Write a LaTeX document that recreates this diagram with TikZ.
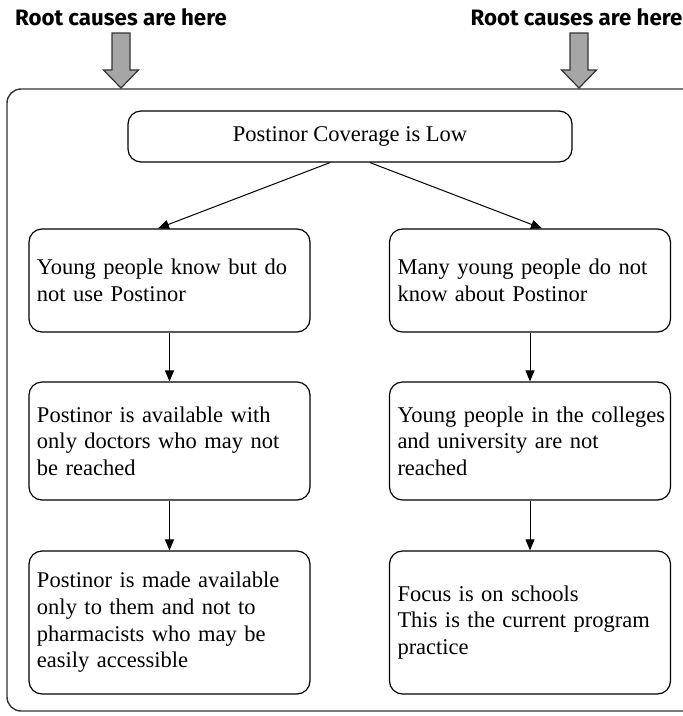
\documentclass[tikz,border=0pt]{standalone}
\usepackage{fontspec}
\setmainfont{Liberation Serif}
\newfontfamily\labelfont{Fira Sans}
\usetikzlibrary{arrows.meta}
\definecolor{arrowgray}{gray}{0.65}
\begin{document}
\begin{tikzpicture}[x=1pt,y=-1pt,
  box/.style={draw=black, line width=1.2pt, rounded corners=13pt, inner xsep=8pt, inner ysep=0pt,
    text width=265pt, align=left, minimum height=#1, font=\fontsize{22.5}{26.7}\selectfont},
  topbox/.style={draw=black, line width=1.2pt, rounded corners=13pt, minimum width=444pt,
    minimum height=51pt, font=\fontsize{22.5}{26.7}\selectfont},
  conn/.style={line width=1pt, -{Triangle[length=11pt,width=9pt]}},
  rootlabel/.style={font=\labelfont\bfseries\fontsize{22.3}{24}\selectfont, anchor=base, inner sep=0pt},
  bigarrow/.style={fill=arrowgray, draw=black!80, line width=1.2pt, line join=miter}
]
\useasboundingbox (0,0) rectangle (683,716);

% container (right side runs out of the picture)
\begin{scope}
\clip (0,0) rectangle (683,716);
\draw[line width=1.4pt, draw=black!80, rounded corners=14pt] (720,89) -- (7,89) -- (7,711) -- (720,711);
\end{scope}

% labels and grey arrows
\node[rootlabel] (lab1) at (121,25) {Root causes are here};
\node[rootlabel] (lab2) at (576.5,25) {Root causes are here};
\draw[bigarrow] (112,33) -- (130,33) -- (130,70) -- (138.5,70) -- (121,88) -- (103.5,70) -- (112,70) -- cycle;
\draw[bigarrow] (570,33) -- (588,33) -- (588,70) -- (596.5,70) -- (579,88) -- (561.5,70) -- (570,70) -- cycle;

% boxes
\node[topbox] (top) at (350,136.5) {Postinor Coverage is Low};
\node[box=103pt] (L1) at (169.5,280.5) {Young people know but do\\not use Postinor};
\node[box=103pt] (R1) at (530,280.5) {Many young people do not\\know about Postinor};
\node[box=118pt] (L2) at (169.5,441) {Postinor is available with\\only doctors who may not\\be reached};
\node[box=118pt] (R2) at (530,441) {\mbox{Young people in the colleges}\\and university are not\\reached};
\node[box=143pt] (L3) at (169.5,622.5) {Postinor is made available\\only to them and not to\\pharmacists who may be\\easily accessible};
\node[box=143pt] (R3) at (530,622.5) {Focus is on schools\\This is the current program\\practice};

% connectors
\draw[conn] ([xshift=-20pt]top.south) -- ([xshift=-11.5pt]L1.north);
\draw[conn] ([xshift=20pt]top.south) -- ([xshift=12pt]R1.north);
\draw[conn] (L1) -- (L2);
\draw[conn] (L2) -- (L3);
\draw[conn] (R1) -- (R2);
\draw[conn] (R2) -- (R3);
\end{tikzpicture}
\end{document}
